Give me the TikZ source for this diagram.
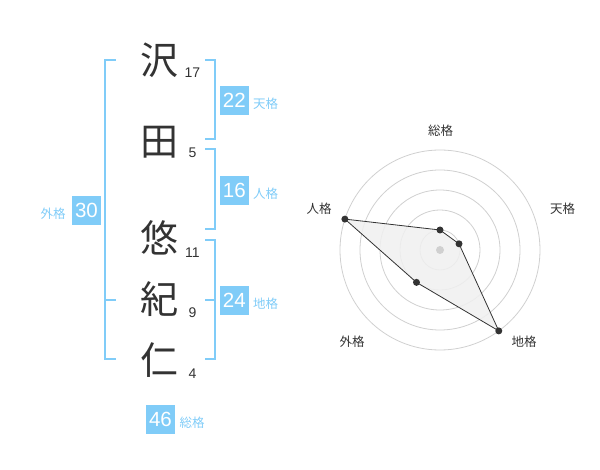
\documentclass[tikz,border=0pt]{standalone}
\usepackage{fontspec}
\setmainfont{Liberation Sans}
\newfontfamily\jp{Noto Sans CJK JP}
\definecolor{sky}{RGB}{128,204,248}
\definecolor{ink}{RGB}{51,51,51}
\definecolor{ringc}{RGB}{208,208,208}
\definecolor{areac}{RGB}{240,240,240}
\begin{document}
\begin{tikzpicture}[x=1pt,y=-1pt,
  kanji/.style={font=\jp\fontsize{38}{38}\selectfont, text=ink, inner sep=0, anchor=base},
  strokes/.style={font=\fontsize{14}{14}\selectfont, text=ink, inner sep=0, anchor=base},
  numbox/.style={fill=sky, text=white, minimum width=29, minimum height=29, inner sep=0, font=\fontsize{20.5}{20.5}\selectfont},
  kaku/.style={font=\jp\fontsize{12.5}{12.5}\selectfont, text=sky, inner sep=0, anchor=base},
  brk/.style={draw=sky, line width=2},
  ring/.style={draw=ringc, line width=0.8},
  axlabel/.style={font=\jp\fontsize{12.5}{12.5}\selectfont, text=ink, inner sep=0, anchor=base},
  dot/.style={circle, fill=ink, inner sep=0, minimum size=7},
]
\useasboundingbox (0,0) rectangle (600,470);
% kanji
\node[kanji] (k1) at (159,74.4) {沢};
\node[kanji] (k2) at (159,155.4) {田};
\node[kanji] (k3) at (159,253) {悠};
\node[kanji] (k4) at (159,314) {紀};
\node[kanji] (k5) at (159,374.5) {仁};
% stroke counts
\node[strokes] (s1) at (192.5,78) {17};
\node[strokes] (s2) at (192.5,158) {5};
\node[strokes] (s3) at (192.5,258) {11};
\node[strokes] (s4) at (192.5,318) {9};
\node[strokes] (s5) at (192.5,378) {4};
% brackets
\draw[brk] (115.7,60) -- (105,60) -- (105,359.3) -- (115.7,359.3);
\draw[brk] (105,300) -- (115.7,300);
\draw[brk] (205,60) -- (215,60) -- (215,139.3) -- (205,139.3);
\draw[brk] (205,149.3) -- (215,149.3) -- (215,229.3) -- (205,229.3);
\draw[brk] (205,240) -- (215,240) -- (215,359.3) -- (205,359.3);
\draw[brk] (205,300) -- (215,300);
% boxes and labels
\node[numbox] (b22) at (234.3,100.3) {22};
\node[kaku] (l22) at (265.5,109) {天格};
\node[numbox] (b16) at (234.3,190.3) {16};
\node[kaku] (l16) at (265.5,199) {人格};
\node[numbox] (b24) at (234.3,300.3) {24};
\node[kaku] (l24) at (265.5,309) {地格};
\node[numbox] (b30) at (86.5,210.3) {30};
\node[kaku] (l30) at (53,219) {外格};
\node[numbox] (b46) at (160.5,419.3) {46};
\node[kaku] (l46) at (192,428) {総格};
% radar
\coordinate (c) at (440,250);
\foreach \r in {20,40,60,80,100} \draw[ring] (c) circle[radius=\r];
\coordinate (p1) at (440,230);
\coordinate (p2) at (459.02,243.82);
\coordinate (p3) at (498.78,330.90);
\coordinate (p4) at (416.49,282.36);
\coordinate (p5) at (344.89,219.10);
\draw[fill=areac, fill opacity=0.85, draw=ink, line width=0.8] (p1) -- (p2) -- (p3) -- (p4) -- (p5) -- cycle;
\node[circle, fill=ringc, inner sep=0, minimum size=8] (cd) at (c) {};
\foreach \p in {p1,p2,p3,p4,p5} \node[dot] at (\p) {};
\node[axlabel] (a1) at (440.5,136) {総格};
\node[axlabel] (a2) at (562.5,213.3) {天格};
\node[axlabel] (a3) at (319,213.3) {人格};
\node[axlabel] (a4) at (352,346.8) {外格};
\node[axlabel] (a5) at (524,346.8) {地格};
\end{tikzpicture}
\end{document}
